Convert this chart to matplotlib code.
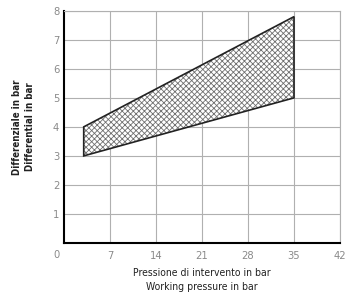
import matplotlib
matplotlib.use("Agg")
import matplotlib.pyplot as plt

# polygon outline of the working region (pressure, differential)
pressure = [3, 35, 35, 3]
differential = [4, 7.8, 5, 3]

x_ticks = [7, 14, 21, 28, 35, 42]
y_ticks = [1, 2, 3, 4, 5, 6, 7, 8]

plt.rcParams['font.family'] = ['DejaVu Sans']
plt.rcParams['font.stretch'] = 'condensed'
plt.rcParams['hatch.color'] = '#707070'
plt.rcParams['hatch.linewidth'] = 0.6

fig = plt.figure(figsize=(3.45, 3.01), dpi=100)
ax = fig.add_axes([0.1855, 0.193, 0.80, 0.771])

ax.fill(pressure, differential, facecolor='white', edgecolor='#707070',
        hatch='xxxxxx', linewidth=0)
ax.fill(pressure, differential, facecolor='none', edgecolor='#222222',
        linewidth=1.2)

ax.set_xlim(0, 42)
ax.set_ylim(0, 8)
ax.set_xticks(x_ticks)
ax.set_yticks(y_ticks)
ax.set_xticklabels([str(v) for v in x_ticks])
ax.set_yticklabels([str(v) for v in y_ticks])
ax.tick_params(length=0, labelsize=8, labelcolor='#8a8a8a', pad=6)
ax.tick_params(axis='y', pad=3.5)
ax.grid(True, color='#b0b0b0', linewidth=0.8)
ax.set_axisbelow(True)

for side in ['top', 'right']:
    ax.spines[side].set_color('#b0b0b0')
    ax.spines[side].set_linewidth(0.8)
for side in ['left', 'bottom']:
    ax.spines[side].set_color('black')
    ax.spines[side].set_linewidth(1.5)

ax.text(-0.6, -0.25, '0', ha='right', va='top', fontsize=8, color='#8a8a8a',
        transform=ax.transData)

ax.set_xlabel('Pressione di intervento in bar\nWorking pressure in bar',
              fontsize=7.5, color='#222222', labelpad=5, linespacing=1.5)
ax.set_ylabel('Differenziale in bar\nDifferential in bar', fontsize=7,
              color='#222222', fontweight='bold', labelpad=13, linespacing=1.4)

fig.savefig('out.png', dpi=100)
